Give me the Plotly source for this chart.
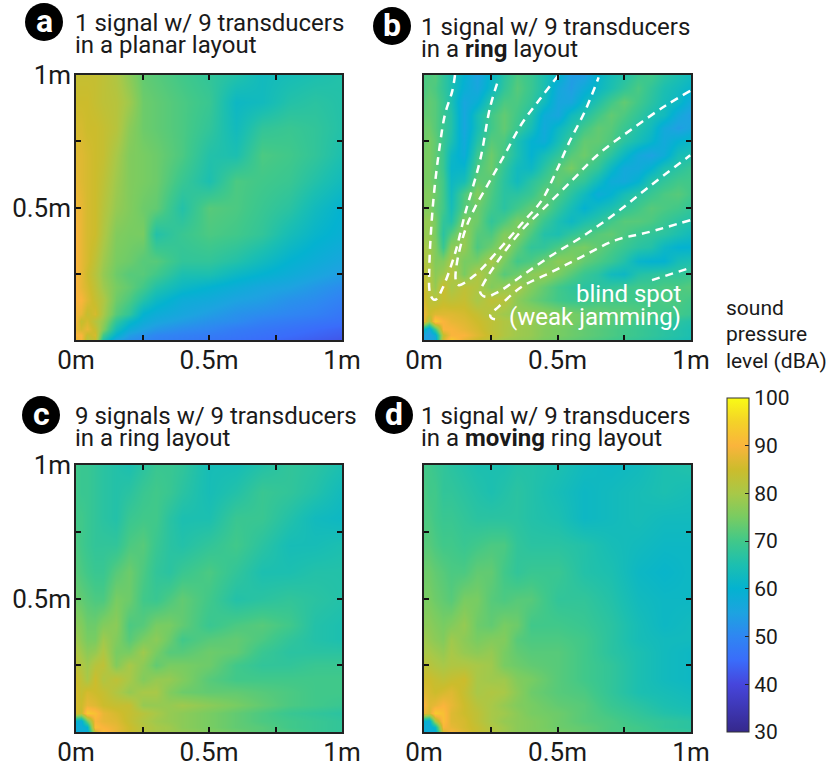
import plotly.graph_objects as go

W, H = 831, 767

# axis samples (metres)
grid_b = [0,.02,.04,.07,.1,.15,.2,.25,.3,.35,.4,.45,.5,.55,.6,.65,.7,.75,.8,.85,.9,.95,1]
grid_cd = [0,.02,.04,.07,.1,.15,.2,.25,.3,.35,.4,.5,.6,.7,.8,.9,1]
grid_a = [0,.02,.04,.07,.1,.15,.2,.25,.3,.4,.5,.6,.7,.8,.9,1]

# sound pressure level in dBA, first row is y = 0
spl_a = [
[88,90,82,84,66,55,52,50,49,48,47,46,45,44,43,42],
[90,90,84,86,70,60,54,52,50,49,48,47,46,45,44,43],
[88,86,88,84,76,64,58,55,53,51,50,48,47,46,45,44],
[89,84,86,82,78,68,62,58,56,54,52,51,49,48,47,46],
[89,88,84,86,80,72,68,60,58,56,54,52,51,50,49,47],
[90,90,87,84,81,74,71,66,62,58,57,55,54,52,51,49],
[90,88,86,83,79,75,73,70,66,62,60,58,56,55,53,51],
[90,88,85,82,78,74,72,72,70,65,65,62,60,58,56,54],
[90,88,86,83,79,75,74,72,72,68,68,66,63,60,58,56],
[90,88,86,85,81,76,75,75,66,69,71,70,68,64,61,59],
[89,88,86,85,82,78,76,74,73,66,72,71,69,67,63,60],
[88,87,86,85,83,79,76,75,74,69,65,71,70,69,66,63],
[87,87,86,85,84,80,76,75,74,71,66,65,71,70,68,65],
[86,86,85,85,84,82,77,74,73,71,68,63,68,69,68,66],
[85,85,85,84,83,82,79,74,73,71,69,62,63,66,67,66],
[84,84,84,84,83,81,77,73,72,70,68,66,63,64,65,66],
]
spl_b = [
[55,55,56,86,94,88,85,82,79,78,77,75,74,73,72,71,70,69,68,67,66,65,64],
[55,54,58,84,90,90,87,84,81,79,78,76,75,74,73,72,71,70,69,68,67,66,65],
[62,56,70,90,90,88,86,83,81,79,78,76,75,74,73,72,71,70,69,68,67,66,65],
[88,80,94,90,88,87,85,83,81,80,78,77,76,75,74,73,72,71,70,69,68,67,66],
[88,85,87,87,87,86,84,81,79,78,78,77,76,75,74,74,73,73,72,71,70,70,69],
[86,83,82,84,83,84,80,83,82,77,74,72,70,69,69,70,70,70,70,70,71,71,70],
[85,82,78,85,80,83,81,76,78,80,76,73,70,68,67,67,68,69,70,70,71,71,72],
[83,81,77,79,82,75,81,77,72,74,77,78,75,72,69,67,63,62,66,67,68,68,69],
[81,80,76,76,80,75,75,80,75,70,71,74,77,76,73,71,69,66,61,60,60,64,65],
[80,79,76,69,77,78,71,74,78,73,68,68,71,74,75,73,71,69,67,66,62,60,60],
[78,78,75,67,72,78,72,71,76,76,71,66,65,68,70,72,73,71,69,68,67,65,63],
[78,78,75,68,66,76,74,68,71,75,74,69,65,62,65,67,70,72,72,71,69,67,66],
[76,76,73,70,64,72,74,70,67,70,73,73,68,64,60,63,65,68,70,72,71,70,68],
[76,76,74,70,63,71,76,71,67,67,69,73,71,67,63,58,60,64,67,69,71,72,70],
[75,75,73,70,62,64,73,72,67,63,67,70,73,70,68,63,58,57,60,66,68,70,70],
[75,75,73,69,61,61,71,74,68,63,62,67,72,75,71,68,62,57,57,60,65,67,69],
[75,75,73,69,62,58,69,74,70,65,60,64,68,72,74,71,67,62,57,55,58,64,65],
[74,75,73,69,65,57,66,72,71,65,60,58,64,69,73,73,71,67,64,61,57,60,62],
[74,74,72,69,66,56,64,70,73,69,64,57,62,66,70,73,72,69,66,63,57,54,56],
[73,73,72,69,66,56,64,70,73,70,66,58,56,63,66,70,73,71,68,65,63,57,54],
[72,73,72,69,65,56,59,67,71,71,68,63,56,56,62,66,70,73,70,67,64,62,57],
[71,72,71,68,65,59,56,62,68,72,69,65,57,54,58,62,65,68,71,68,65,63,61],
[71,71,72,68,65,60,55,61,67,71,69,65,61,54,54,61,64,66,69,70,67,65,63],
]
spl_c = [
[58,58,58,84,92,88,85,82,80,79,78,76,74,72,71,69,68],
[58,58,60,92,90,88,85,82,80,79,77,75,73,72,70,69,68],
[60,58,74,90,88,87,84,81,79,78,77,75,73,71,70,69,68],
[86,84,94,92,88,86,84,82,80,78,77,75,73,71,69,68,67],
[86,85,88,87,85,84,84,78,78,78,79,77,75,73,71,70,69],
[86,84,86,85,84,81,78,80,80,76,74,73,73,72,71,70,70],
[85,83,80,85,81,83,80,76,78,78,76,72,70,70,70,70,70],
[83,81,79,82,83,76,80,77,73,75,75,74,70,68,68,69,69],
[81,79,77,78,81,75,75,79,75,72,72,74,73,69,67,67,67],
[79,77,75,75,79,76,72,75,77,74,70,72,73,71,68,66,65],
[77,76,74,74,76,77,71,72,75,75,73,69,71,72,70,66,65],
[74,73,72,71,71,75,74,70,69,71,73,70,66,67,68,67,66],
[72,71,70,69,69,72,74,71,68,67,69,71,68,65,65,66,66],
[71,70,69,68,68,68,71,72,69,67,66,68,70,67,64,64,65],
[70,70,69,68,67,66,69,70,70,67,65,65,69,69,66,63,62],
[70,69,69,68,67,66,67,69,70,69,67,64,66,69,68,66,63],
[70,69,69,68,67,66,65,67,69,69,68,64,64,66,68,67,65],
]
spl_d = [
[58,58,58,86,90,87,84,82,79,77,76,75,73,71,70,69,68],
[58,58,62,90,88,86,84,81,79,77,76,74,73,71,70,68,67],
[60,58,80,92,87,86,83,80,78,77,76,74,72,71,69,68,67],
[88,86,94,92,87,85,83,80,79,77,75,74,72,70,68,66,65],
[90,87,88,90,88,85,82,80,78,76,75,73,72,69,67,65,64],
[87,86,85,86,87,84,80,81,80,77,74,72,71,68,65,64,63],
[85,85,84,83,84,85,80,79,79,76,75,72,70,68,65,63,62],
[83,82,81,80,81,81,80,79,75,74,73,72,70,68,65,63,62],
[80,80,79,78,80,78,77,78,75,73,72,72,70,67,65,63,62],
[79,78,77,76,79,77,75,76,76,72,71,71,70,67,64,63,63],
[77,77,76,75,76,78,74,73,75,74,70,70,69,67,64,62,63],
[75,75,74,73,72,75,75,72,71,72,72,68,68,66,63,62,62],
[74,74,73,72,71,71,73,73,70,68,69,69,66,65,62,61,62],
[72,72,71,70,70,69,70,71,71,68,67,67,66,64,63,62,62],
[71,71,70,69,69,68,67,67,67,67,66,65,62,63,64,63,63],
[71,70,70,68,68,67,66,65,66,67,66,64,62,63,64,65,64],
[70,70,69,68,67,66,65,65,65,66,66,65,63,62,63,65,66],
]

# white dashed outlines of blind spots in panel b
finger1_x = [.116,.106,.079,.06,.035,.02,.0225,.035,.045,.069,.116,.154,.21,.2475,.281]
finger1_y = [1.0,.94,.853,.74,.527,.276,.176,.153,.153,.194,.326,.477,.678,.878,.989]
finger2_x = [.504,.435,.366,.304,.248,.191,.154,.123,.119,.129,.191,.279,.366,.441,.491,.541,.604,.654]
finger2_y = [1.0,.91,.816,.703,.602,.5,.414,.289,.226,.207,.245,.339,.439,.527,.627,.74,.866,.991]
finger3_x = [.997,.904,.779,.654,.554,.441,.366,.279,.223,.21,.229,.279,.379,.479,.591,.716,.841,.997]
finger3_y = [.94,.884,.796,.702,.602,.489,.414,.301,.213,.182,.163,.182,.251,.32,.389,.477,.577,.697]
finger4_x = [.997,.841,.716,.591,.479,.366,.279,.248,.254,.266]
finger4_y = [.452,.407,.376,.314,.257,.201,.125,.094,.082,.078]
tail_x = [.854,.997]
tail_y = [.226,.272]

# layout of the four panels: left, right, top, bottom pixels
panel_names = ["a", "b", "c", "d"]
panel_left = [76, 424, 76, 424]
panel_right = [342, 691, 342, 691]
panel_top = [75, 75, 465, 465]
panel_bottom = [340, 340, 732, 732]
badge_x = [44, 392, 41, 394]
badge_y = [22, 26, 415, 415]
title_x = [73, 419, 73, 419]
title_line1 = ["1 signal w/ 9 transducers", "1 signal w/ 9 transducers",
               "9 signals w/ 9 transducers", "1 signal w/ 9 transducers"]
title_line2 = ["in a planar layout", "in a <b>ring</b> layout",
               "in a ring layout", "in a <b>moving</b> ring layout"]
title_y1 = [23, 27, 416, 416]
title_y2 = [45, 49, 438, 438]

cb_ticks = [30, 40, 50, 60, 70, 80, 90, 100]
scale = [
    [0.0, "#35288c"], [0.143, "#4646dc"], [0.214, "#3a6cfa"], [0.286, "#2f86f2"],
    [0.357, "#1da3e0"], [0.429, "#04b2d0"], [0.5, "#1cbfb0"], [0.571, "#40c88a"],
    [0.643, "#78cc62"], [0.714, "#a8c848"], [0.786, "#ccbc2c"], [0.857, "#fab43c"],
    [0.929, "#f4d228"], [1.0, "#f9fb15"],
]

FONT = "Roboto"
TEXT = "#1a1a1a"
fig = go.Figure()
grids = [grid_a, grid_b, grid_cd, grid_cd]
values = [spl_a, spl_b, spl_c, spl_d]
anns = []
shapes = []


def px(v):
    return v / W


def py(v):
    return 1 - v / H


for i in range(4):
    suf = "" if i == 0 else str(i + 1)
    fig.add_trace(go.Heatmap(x=grids[i], y=grids[i], z=values[i], zsmooth="best",
                             coloraxis="coloraxis", xaxis="x" + suf, yaxis="y" + suf,
                             hoverinfo="skip"))
    common = dict(range=[0, 1], showgrid=False, zeroline=False, showline=True, linecolor="#222",
                  linewidth=1.5, mirror="ticks", ticks="inside", ticklen=5, tickwidth=1.5,
                  tickcolor="#111", tickvals=[0, .25, .5, .75, 1], layer="above traces",
                  tickfont=dict(family=FONT, size=26, color=TEXT))
    fig.update_layout({
        "xaxis" + suf: dict(common, domain=[px(panel_left[i]), px(panel_right[i])],
                            anchor="y" + suf, ticklabelstandoff=-4,
                            ticktext=["0m", "", "0.5m", "", "1m"]),
        "yaxis" + suf: dict(common, domain=[py(panel_bottom[i]), py(panel_top[i])],
                            anchor="x" + suf, ticklabelstandoff=-2,
                            ticktext=["", "", "0.5m", "", "1m"] if i in (0, 2) else [""] * 5),
    })
    shapes.append(dict(type="circle", xref="paper", yref="paper", fillcolor="black", line_width=0,
                       x0=px(badge_x[i] - 19), x1=px(badge_x[i] + 19),
                       y0=py(badge_y[i] + 19), y1=py(badge_y[i] - 19)))
    anns.append(dict(text="<b>%s</b>" % panel_names[i], x=px(badge_x[i]), y=py(badge_y[i] - 1),
                     xref="paper", yref="paper", xanchor="center", yanchor="middle", showarrow=False,
                     font=dict(family=FONT, size=32, color="white")))
    for txt, yy in ((title_line1[i], title_y1[i]), (title_line2[i], title_y2[i])):
        anns.append(dict(text=txt, x=px(title_x[i]), y=py(yy), xref="paper", yref="paper",
                         xanchor="left", yanchor="middle", showarrow=False,
                         font=dict(family=FONT, size=24, color=TEXT)))

for fx, fy in ((finger1_x, finger1_y), (finger2_x, finger2_y), (finger3_x, finger3_y),
               (finger4_x, finger4_y), (tail_x, tail_y)):
    fig.add_trace(go.Scatter(x=fx, y=fy, mode="lines", xaxis="x2", yaxis="y2", showlegend=False,
                             hoverinfo="skip",
                             line=dict(color="white", width=2.5, dash="8px,6px", shape="spline")))

for txt, yy in (("blind spot", 294), ("(weak jamming)", 317)):
    anns.append(dict(text=txt, x=px(683), y=py(yy), xref="paper", yref="paper", xanchor="right",
                     yanchor="middle", showarrow=False,
                     font=dict(family=FONT, size=24, color="white")))
for txt, yy in (("sound", 308), ("pressure", 334), ("level (dBA)", 361)):
    anns.append(dict(text=txt, x=px(724), y=py(yy), xref="paper", yref="paper", xanchor="left",
                     yanchor="middle", showarrow=False,
                     font=dict(family=FONT, size=21, color=TEXT)))

fig.update_layout(
    width=W, height=H, margin=dict(l=0, r=0, t=0, b=0, autoexpand=False), paper_bgcolor="white",
    plot_bgcolor="white", showlegend=False, annotations=anns, shapes=shapes,
    font=dict(family=FONT, color=TEXT),
    coloraxis=dict(cmin=30, cmax=100, colorscale=scale, colorbar=dict(
        thicknessmode="pixels", thickness=22, lenmode="pixels", len=334, x=px(727), xanchor="left",
        y=py(732), yanchor="bottom", xpad=0, ypad=0, outlinewidth=1, outlinecolor="#333",
        ticks="inside", ticklen=4, tickcolor="#222", tickvals=cb_ticks,
        tickfont=dict(family=FONT, size=21, color=TEXT))),
)
fig.write_html("out.html", config={"displayModeBar": False},
               post_script="document.body.style.margin='0';document.body.style.overflow='hidden';")
